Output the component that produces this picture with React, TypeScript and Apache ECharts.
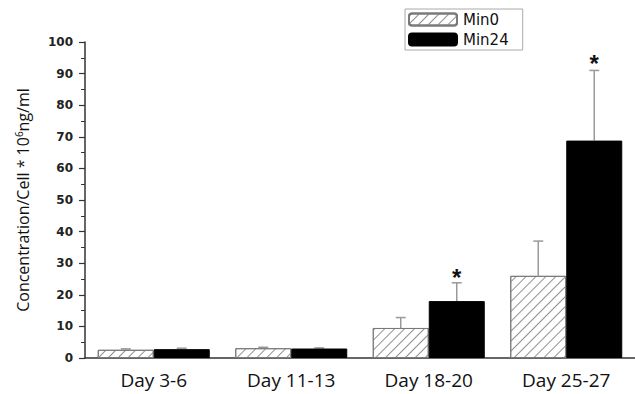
import React, { useEffect, useRef } from "react";
import * as echarts from "echarts";

const categories = ["Day 3-6", "Day 11-13", "Day 18-20", "Day 25-27"];
const min0Values = [2.6, 3.1, 9.5, 26.0];
const min24Values = [2.8, 3.0, 18.0, 68.8];
const min0ErrUp = [0.3, 0.3, 3.3, 11.0];
const min24ErrUp = [0.3, 0.2, 5.8, 22.2];
const starMarks = [
  { cat: "Day 18-20", value: 27.5 },
  { cat: "Day 25-27", value: 95.0 },
];

const BAR_W = 56;

function errorSeries(name: string, values: number[], errs: number[], offset: number) {
  return {
    type: "custom",
    name: name + "-err",
    z: 1,
    silent: true,
    data: values.map((v, i) => [i, v, v + errs[i]]),
    renderItem: (params: any, api: any) => {
      const low = api.coord([api.value(0), api.value(1)]);
      const high = api.coord([api.value(0), api.value(2)]);
      const x = low[0] + offset;
      const style = { stroke: "#9a9a9a", lineWidth: 1.5 };
      return {
        type: "group",
        children: [
          { type: "line", shape: { x1: x, y1: low[1], x2: x, y2: high[1] }, style },
          { type: "line", shape: { x1: x - 5, y1: high[1], x2: x + 5, y2: high[1] }, style },
        ],
      };
    },
  };
}

export default function App() {
  const ref = useRef<HTMLDivElement>(null);
  useEffect(() => {
    const chart = echarts.init(ref.current!, null, { renderer: "svg" });
    const hatch = {
      symbol: "rect",
      symbolSize: 1,
      dashArrayX: [1, 0],
      dashArrayY: [1, 6],
      rotation: -Math.PI / 4,
      color: "#909090",
      backgroundColor: "#ffffff",
    };
    chart.setOption({
      animation: false,
      backgroundColor: "#ffffff",
      grid: { left: 85, top: 42, width: 556, bottom: 36 },
      legend: {
        orient: "vertical",
        left: 405,
        top: 9,
        padding: [3, 14, 3, 3],
        itemGap: 5,
        itemWidth: 48,
        itemHeight: 12,
        borderColor: "#aaaaaa",
        borderWidth: 1,
        data: ["Min0", "Min24"],
        textStyle: { fontFamily: "DejaVu Sans", fontSize: 15, color: "#111", padding: [0, 0, 0, 1] },
      },
      xAxis: {
        type: "category",
        data: categories,
        axisLine: { lineStyle: { color: "#333", width: 1.5 } },
        axisTick: { show: false },
        axisLabel: { fontFamily: "Open Sans", fontSize: 19, color: "#111", margin: 12 },
      },
      yAxis: {
        type: "value",
        min: 0,
        max: 100,
        interval: 10,
        name: "Concentration/Cell * 10{sup|6}ng/ml",
        nameLocation: "middle",
        nameGap: 53,
        nameTextStyle: {
          fontFamily: "Open Sans",
          fontSize: 16,
          color: "#111",
          rich: { sup: { fontFamily: "Open Sans", fontSize: 10, color: "#111", verticalAlign: "top", padding: [0, 0, 8, 0] } },
        },
        axisLine: { show: true, lineStyle: { color: "#333", width: 1.5 } },
        axisTick: { show: true, length: 6, lineStyle: { color: "#333", width: 1.2 } },
        minorTick: { show: true, splitNumber: 2, length: 4, lineStyle: { color: "#333", width: 1 } },
        splitLine: { show: false },
        axisLabel: { fontFamily: "DejaVu Sans", fontWeight: "bold", fontSize: 12, color: "#222", margin: 12 },
      },
      series: [
        {
          type: "bar",
          name: "Min0",
          data: min0Values,
          barWidth: BAR_W,
          barGap: "0%",
          z: 2,
          itemStyle: { color: "#ffffff", borderColor: "#7a7a7a", borderWidth: 1, decal: hatch },
        },
        {
          type: "bar",
          name: "Min24",
          data: min24Values,
          barWidth: BAR_W,
          barGap: "0%",
          z: 2,
          itemStyle: { color: "#000000", borderColor: "#000", borderWidth: 1 },
          markPoint: {
            symbol: "circle",
            symbolSize: 0,
            label: { show: true, formatter: "*", fontSize: 24, fontWeight: "bold", color: "#111", fontFamily: "Liberation Sans", offset: [0, 6] },
            data: starMarks.map((s) => ({ coord: [s.cat, s.value] })),
          },
        },
        errorSeries("Min0", min0Values, min0ErrUp, -BAR_W / 2),
        errorSeries("Min24", min24Values, min24ErrUp, BAR_W / 2),
      ],
    });
    return () => chart.dispose();
  }, []);
  return <div ref={ref} style={{ position: "fixed", left: 0, top: 0, width: 635, height: 394 }} />;
}
